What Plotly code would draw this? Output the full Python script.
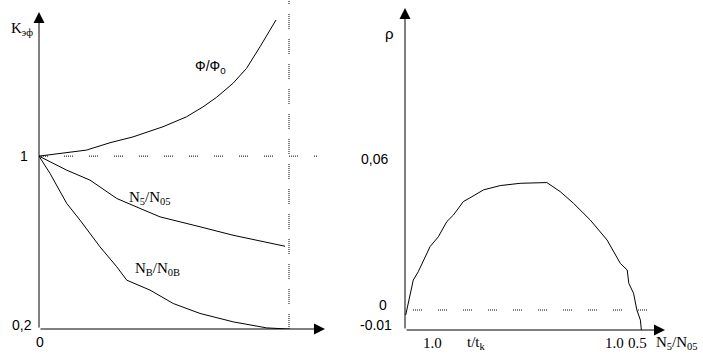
import plotly.graph_objects as go

W, H = 703, 356

# ---- Left panel data (x = t/t_k, y = K_eff) ----
phi_x = [0.0, 0.084, 0.19, 0.284, 0.376, 0.496, 0.59, 0.656, 0.71, 0.776, 0.83, 0.884, 0.924, 0.948]
phi_y = [1.0, 1.0125, 1.028, 1.062, 1.089, 1.136, 1.182, 1.228, 1.272, 1.337, 1.406, 1.506, 1.583, 1.63]

n5_x = [0.0, 0.111, 0.204, 0.311, 0.404, 0.484, 0.644, 0.776, 0.984]
n5_y = [1.0, 0.935, 0.889, 0.804, 0.758, 0.719, 0.673, 0.634, 0.583]

nb_x = [0.0, 0.044, 0.111, 0.164, 0.244, 0.311, 0.351, 0.444, 0.537, 0.644, 0.777, 0.911, 0.997]
nb_y = [1.0, 0.92, 0.781, 0.704, 0.58, 0.488, 0.426, 0.38, 0.318, 0.272, 0.233, 0.205, 0.2]

# ---- Right panel data (x = normalized, y = rho) ----
rho_x = [0.003, 0.014, 0.035, 0.056, 0.092, 0.106, 0.141, 0.177, 0.205, 0.247, 0.283, 0.332, 0.403,
         0.487, 0.600, 0.657, 0.713, 0.784, 0.855, 0.911, 0.940, 0.947, 0.967, 0.981, 0.996, 1.0]
rho_y = [-0.002, 0.0026, 0.0118, 0.0151, 0.0224, 0.025, 0.0289, 0.0349, 0.0375, 0.0428, 0.0447, 0.0474,
         0.0491, 0.0500, 0.0503, 0.0467, 0.0421, 0.0355, 0.0276, 0.0184, 0.0158, 0.0105, 0.0066, 0.0,
         -0.004, -0.0079]

# axis extents
L_X = [0, 1.144]
L_Y = [0.2, 1.667]
R_X = [0, 1.1]
R_Y = [-0.0079, 0.1192]

fig = go.Figure()
line = dict(color="black", width=1)
fig.add_trace(go.Scatter(x=phi_x, y=phi_y, mode="lines", line=line, xaxis="x", yaxis="y", showlegend=False))
fig.add_trace(go.Scatter(x=n5_x, y=n5_y, mode="lines", line=line, xaxis="x", yaxis="y", showlegend=False))
fig.add_trace(go.Scatter(x=nb_x, y=nb_y, mode="lines", line=line, xaxis="x", yaxis="y", showlegend=False))
fig.add_trace(go.Scatter(x=rho_x, y=rho_y, mode="lines", line=line, xaxis="x2", yaxis="y2", showlegend=False))

dots_h = "1px,1px,1px,1px,1px,1px,1px,1px,1px,16px"
dots_v = "1px,1px,1px,1px,1px,1px,1px,1px,1px,1px,1px,1px,1px,1px,1px,10px"

shapes = [
    dict(type="line", xref="x", yref="y", x0=0, x1=1.116, y0=1, y1=1,
         line=dict(color="black", width=1, dash=dots_h)),
    dict(type="line", xref="x", yref="paper", x0=1, x1=1, y0=1 - 329 / H, y1=1,
         line=dict(color="black", width=1, dash=dots_v)),
    dict(type="line", xref="x2", yref="y2", x0=0.034, x1=1.064, y0=0, y1=0,
         line=dict(color="black", width=1, dash=dots_h)),
]

def arrow(xr, yr, tip, tail):
    return dict(xref=xr, yref=yr, axref=xr, ayref=yr, x=tip[0], y=tip[1], ax=tail[0], ay=tail[1],
                text="", showarrow=True, arrowhead=2, arrowsize=2.2, arrowwidth=1, arrowcolor="black")

def lab(px, py, text, size=14, family="Liberation Sans"):
    return dict(xref="paper", yref="paper", x=px / W, y=1 - py / H, text=text, showarrow=False,
                xanchor="center", yanchor="middle", font=dict(family=family, size=size, color="black"))

serif = "Liberation Serif"
annotations = [
    arrow("x", "y", (0, L_Y[1]), (0, L_Y[0])),
    arrow("x", "y", (L_X[1], L_Y[0]), (0, L_Y[0])),
    arrow("x2", "y2", (0, R_Y[1]), (0, R_Y[0])),
    arrow("x2", "y2", (R_X[1], R_Y[0]), (0, R_Y[0])),
    # left labels
    lab(22, 29, "K<sub>эф</sub>", 15, serif),
    lab(24, 156, "1", 14),
    lab(22, 325, "0,2", 14),
    lab(40, 342, "0", 14),
    lab(210, 67, "Ф/Ф<sub>0</sub>", 14),
    lab(150, 198, "N<sub>5</sub>/N<sub>05</sub>", 15, serif),
    lab(157, 269, "N<sub>B</sub>/N<sub>0B</sub>", 15, serif),
    # right labels
    lab(389, 33, "ρ", 15),
    lab(375, 159, "0,06", 14),
    lab(383, 305, "0", 14),
    lab(376, 325, "-0.01", 14),
    lab(432, 343, "1.0", 15, serif),
    lab(476, 343, "t/t<sub>k</sub>", 15, serif),
    lab(614, 343, "1.0", 15, serif),
    lab(637, 343, "0.5", 15, serif),
    lab(677, 343, "N<sub>5</sub>/N<sub>05</sub>", 15, serif),
]

ax_common = dict(showgrid=False, zeroline=False, showline=False, showticklabels=False, ticks="", fixedrange=True)
fig.update_layout(
    width=W, height=H, margin=dict(l=0, r=0, t=0, b=0),
    paper_bgcolor="white", plot_bgcolor="white",
    xaxis=dict(domain=[39 / W, 325 / W], range=L_X, **ax_common),
    yaxis=dict(domain=[1 - 329 / H, 1 - 12 / H], range=L_Y, **ax_common),
    xaxis2=dict(domain=[405 / W, 665 / W], range=R_X, anchor="y2", **ax_common),
    yaxis2=dict(domain=[1 - 330 / H, 1 - 8 / H], range=R_Y, anchor="x2", **ax_common),
    shapes=shapes, annotations=annotations,
)
fig.write_html("out.html", config={"displayModeBar": False},
               post_script="document.body.style.margin='0px';document.body.style.overflow='hidden';")
